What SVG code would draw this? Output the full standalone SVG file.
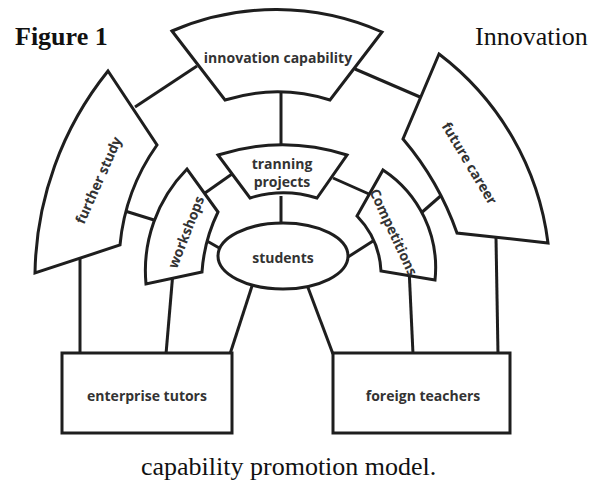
<svg xmlns="http://www.w3.org/2000/svg" width="603" height="484" viewBox="0 0 603 484">
<style>
.shape{fill:#fff;stroke:#1e1e1e;stroke-width:3;stroke-linejoin:miter}
.conn{stroke:#1e1e1e;stroke-width:3;fill:none}
.lbl{font-family:"Open Sans","DejaVu Sans",sans-serif;font-weight:700;font-size:14px;fill:#333;text-anchor:middle;dominant-baseline:central}
.serif{font-family:"Liberation Serif","Times New Roman",serif;font-size:26px;fill:#111}
</style>
<rect width="603" height="484" fill="#fff"/>
<text class="serif" x="15" y="45" font-weight="700">Figure 1</text>
<text class="serif" x="475" y="45">Innovation</text>
<text class="serif" x="141" y="475">capability promotion model.</text>
<g id="connectors">
<line class="conn" x1="197" y1="66" x2="135" y2="107"/>
<line class="conn" x1="355" y1="69" x2="420" y2="97"/>
<line class="conn" x1="281" y1="92" x2="281" y2="148"/>
<line class="conn" x1="205" y1="193" x2="232" y2="174"/>
<line class="conn" x1="333" y1="178" x2="369" y2="194"/>
<line class="conn" x1="281" y1="196" x2="281" y2="225"/>
<line class="conn" x1="207" y1="241" x2="221" y2="249"/>
<line class="conn" x1="348" y1="257" x2="373" y2="241"/>
<line class="conn" x1="125" y1="211" x2="154" y2="220"/>
<line class="conn" x1="444" y1="193" x2="420" y2="214"/>
<line class="conn" x1="80" y1="255" x2="80" y2="354"/>
<line class="conn" x1="173" y1="272" x2="166" y2="354"/>
<line class="conn" x1="253" y1="283" x2="230" y2="354"/>
<line class="conn" x1="307" y1="285" x2="333" y2="354"/>
<line class="conn" x1="409" y1="268" x2="413" y2="354"/>
<line class="conn" x1="496" y1="238" x2="498" y2="354"/>
</g>
<g id="innovation-capability">
<path class="shape" d="M172 31 A262 262 0 0 1 382 32 L330 100 A176 176 0 0 0 225 100 Z"/>
<text class="lbl" x="278" y="57">innovation capability</text>
</g>
<g id="further-study">
<path class="shape" d="M108 71 A330 330 0 0 0 35 273 L120 245 A206 206 0 0 1 157 145 Z"/>
<text class="lbl" transform="rotate(-66 98 180)" x="98" y="180">further study</text>
</g>
<g id="future-career">
<path class="shape" d="M439 54 A281 281 0 0 1 548 243 L457 233 A296 296 0 0 0 403 139 Z"/>
<text class="lbl" transform="rotate(59 470 163)" x="470" y="163">future career</text>
</g>
<g id="tranning-projects">
<path class="shape" d="M218 155 A213 213 0 0 1 347 155 L317 198 A110 110 0 0 0 250 198 Z"/>
<text class="lbl" x="282" y="163">tranning</text>
<text class="lbl" x="282" y="181">projects</text>
</g>
<g id="workshops">
<path class="shape" d="M187 169 A145 145 0 0 0 146 284 L202 272 A161 161 0 0 1 218 212 Z"/>
<text class="lbl" transform="rotate(-68.5 185.5 232)" x="185.5" y="232">workshops</text>
</g>
<g id="competitions">
<path class="shape" d="M383 170 A117 117 0 0 1 435 280 L381 271 A85 85 0 0 0 357 216 Z"/>
<text class="lbl" transform="rotate(65 394 232)" x="394" y="232">Competitions</text>
</g>
<g id="students">
<ellipse class="shape" cx="283" cy="256" rx="65" ry="33"/>
<text class="lbl" x="283" y="257">students</text>
</g>
<g id="enterprise-tutors">
<rect class="shape" x="62" y="353" width="170" height="80"/>
<text class="lbl" x="147" y="395">enterprise tutors</text>
</g>
<g id="foreign-teachers">
<rect class="shape" x="333" y="353" width="177" height="80"/>
<text class="lbl" x="423" y="395">foreign teachers</text>
</g>
</svg>
